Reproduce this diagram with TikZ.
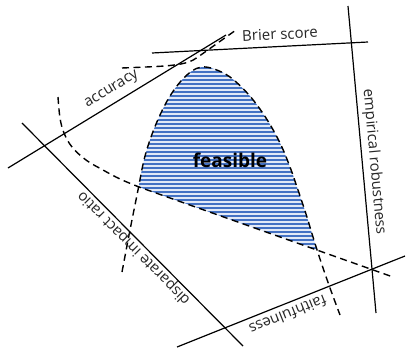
\documentclass[tikz,border=0pt]{standalone}
\usepackage{fontspec}
\setmainfont{Open Sans}
\definecolor{stripeblue}{HTML}{4472C4}
\definecolor{paleblue}{HTML}{E3EAF7}
\begin{document}
\begin{tikzpicture}[x=1pt,y=-1pt,
  solidline/.style={line width=1.2pt, black},
  dashline/.style={line width=1.4pt, black, dash pattern=on 7pt off 4.5pt},
  lbl/.style={font=\fontsize{15}{18}\selectfont, text=black!85, inner sep=0pt},
  stripe/.style={line width=2.1pt, draw=stripeblue}]
\useasboundingbox (0,0) rectangle (406,350);

% end points of the solid constraint lines
\coordinate (accA) at (8,168);
\coordinate (accB) at (226,35);
\coordinate (brA) at (152,53);
\coordinate (brB) at (368,42);
\coordinate (erA) at (348,6);
\coordinate (erB) at (376,313);
\coordinate (faA) at (177,347);
\coordinate (faB) at (405,256);
\coordinate (diA) at (22,123);
\coordinate (diB) at (243,346);

% feasible region (hatched)
\begin{scope}
  \clip plot[smooth, tension=0.6] coordinates {(122,272) (130,230) (138,190) (144,160) (151,137) (160,115) (170,96) (181,81) (192,71) (202,67) (214,69) (230,77) (249,95) (266,118) (280,143) (290,167) (298,190) (306,214) (313,237) (320,259) (330,288) (340,315)} -- cycle;
  \clip (100,173.2) -- (400,279.4) -- (400,0) -- (100,0) -- cycle;
  \fill[paleblue] (100,40) rectangle (360,300);
  \foreach \y in {60,64,...,300} \draw[stripe] (100,\y) -- (360,\y);
\end{scope}

% dashed constraint curves
\draw[dashline] plot[smooth, tension=0.6] coordinates {(122,272) (130,230) (138,190) (144,160) (151,137) (160,115) (170,96) (181,81) (192,71) (202,67) (214,69) (230,77) (249,95) (266,118) (280,143) (290,167) (298,190) (306,214) (313,237) (320,259) (330,288) (340,315)};
\draw[dashline] plot[smooth, tension=0.6] coordinates {(58,97) (60,118) (64,133) (72,147) (86,160) (103,170) (120,179) (139,187)} -- (393,277);
\draw[dashline] (122,68) .. controls (170,66) and (186,66) .. (198,57) -- (236,30);

% solid lines
\draw[solidline] (accA) -- (accB);
\draw[solidline] (brA) -- (brB);
\draw[solidline] (erA) -- (erB);
\draw[solidline] (faA) -- (faB);
\draw[solidline] (diA) -- (diB);

% labels
\node[lbl, rotate=31.4] (lacc) at (112,90) {accuracy};
\node[lbl, rotate=2.9] (lbr) at (280,34) {Brier score};
\node[lbl, rotate=-84.8] (ler) at (374,162) {empirical robustness};
\node[lbl, rotate=134.7] (ldi) at (134,248) {disparate impact ratio};
\node[lbl, rotate=201.8] (lfa) at (288,315) {faithfulness};
\node[inner sep=0pt, font=\fontsize{19}{22}\selectfont\bfseries] (lfe) at (230,160) {feasible};
\end{tikzpicture}
\end{document}
